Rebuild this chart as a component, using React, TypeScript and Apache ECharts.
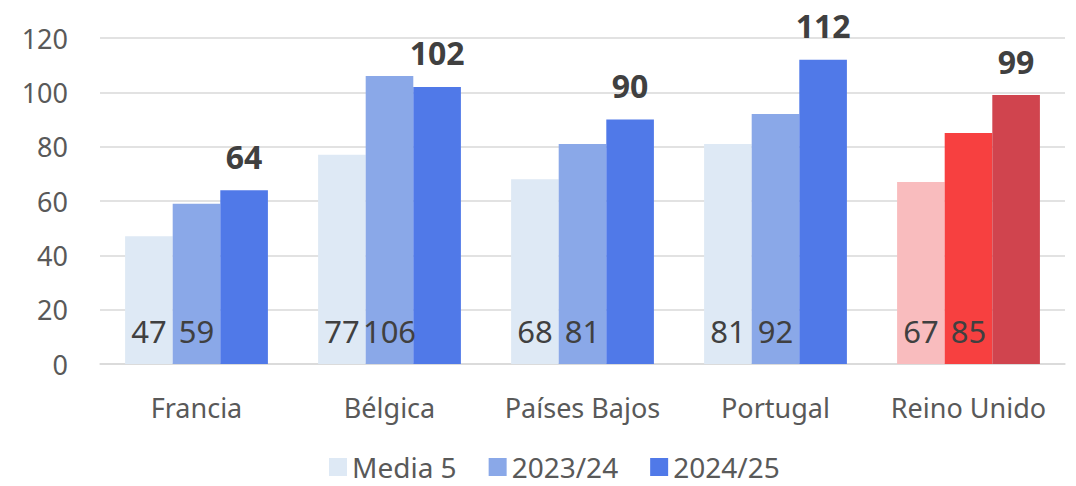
import React, { useEffect, useRef } from "react";
import * as echarts from "echarts";

const categories = ["Francia", "Bélgica", "Países Bajos", "Portugal", "Reino Unido"];
const seriesNames = ["Media 5", "2023/24", "2024/25"];
const media5 = [47, 77, 68, 81, 67];
const season2324 = [59, 106, 81, 92, 85];
const season2425 = [64, 102, 90, 112, 99];
const yTicks = { min: 0, max: 120, interval: 20 };

const blues = ["#DEE9F5", "#8AA8E8", "#5079E8"];
const reds = ["#F9BCBE", "#F74040", "#D0444E"];
const highlightIndex = 4;

const FONT = "'Noto Sans', sans-serif";

export default function App() {
  const ref = useRef<HTMLDivElement>(null);

  useEffect(() => {
    if (!ref.current) return;
    const chart = echarts.init(ref.current, undefined, { renderer: "svg" });

    const makeData = (values: number[], s: number) =>
      values.map((v, i) => ({
        value: v,
        itemStyle: { color: i === highlightIndex ? reds[s] : blues[s] },
      }));

    const bottomLabel = {
      show: true,
      position: "insideBottom" as const,
      distance: 18,
      color: "#404040",
      fontSize: 31,
      fontFamily: FONT,
    };

    chart.setOption({
      animation: false,
      textStyle: { fontFamily: FONT },
      grid: { left: 100, right: 11, top: 38, bottom: 122 },
      legend: {
        bottom: 0,
        left: 324,
        itemWidth: 18,
        itemHeight: 18,
        itemGap: 32,
        icon: "rect",
        textStyle: { fontSize: 28, color: "#595959", fontFamily: FONT },
        data: seriesNames.map((n, i) => ({ name: n, itemStyle: { color: blues[i] } })),
      },
      xAxis: {
        type: "category",
        data: categories,
        axisTick: { show: false },
        axisLine: { lineStyle: { color: "#D9D9D9", width: 1.5 } },
        axisLabel: { interval: 0, fontSize: 27, color: "#595959", margin: 30, fontFamily: FONT },
      },
      yAxis: {
        type: "value",
        min: yTicks.min,
        max: yTicks.max,
        interval: yTicks.interval,
        axisLine: { show: false },
        axisTick: { show: false },
        axisLabel: { fontSize: 27, color: "#595959", margin: 32, fontFamily: FONT },
        splitLine: { lineStyle: { color: "#D9D9D9", width: 1.5 } },
      },
      series: [
        {
          name: seriesNames[0],
          type: "bar",
          barGap: "0%",
          barCategoryGap: "26%",
          data: makeData(media5, 0),
          label: bottomLabel,
        },
        {
          name: seriesNames[1],
          type: "bar",
          data: makeData(season2324, 1),
          label: bottomLabel,
        },
        {
          name: seriesNames[2],
          type: "bar",
          data: makeData(season2425, 2),
          label: {
            show: true,
            position: "top",
            distance: 18,
            color: "#404040",
            fontSize: 32,
            fontWeight: "bold",
            fontFamily: FONT,
          },
        },
      ],
    });

    return () => chart.dispose();
  }, []);

  // Negative margin cancels the page's default body margin so the chart fills the window.
  return <div ref={ref} style={{ width: 1076, height: 486, margin: -8 }} />;
}
